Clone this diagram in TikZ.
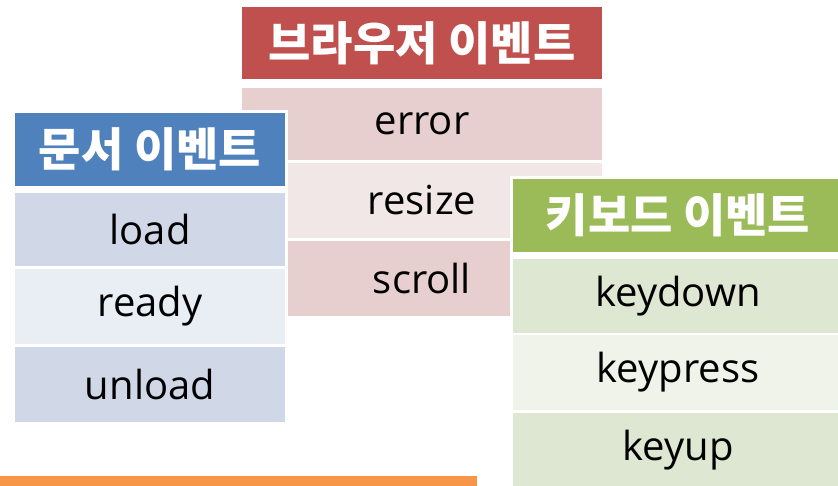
\documentclass[tikz,border=0pt]{standalone}
\usepackage{fontspec}
\setmainfont{Open Sans}
\newfontfamily\kr{Noto Sans CJK KR}
\definecolor{redH}{HTML}{C0504D}
\definecolor{redA}{HTML}{E6CFCE}
\definecolor{redB}{HTML}{F2E7E7}
\definecolor{bluH}{HTML}{4F81BD}
\definecolor{bluA}{HTML}{D0D8E8}
\definecolor{bluB}{HTML}{E9EDF4}
\definecolor{grnH}{HTML}{9BBB59}
\definecolor{grnA}{HTML}{DEE7D1}
\definecolor{grnB}{HTML}{EFF3EA}
\definecolor{orng}{HTML}{F79646}
\tikzset{
  cell/.style={inner sep=0pt, outer sep=0pt, anchor=center, text=black,
    font=\fontsize{40}{40}\selectfont},
  head/.style={inner sep=0pt, outer sep=0pt, anchor=center, text=white,
    font=\kr\bfseries\fontsize{46}{46}\selectfont},
}
\begin{document}
\begin{tikzpicture}[x=1pt,y=-1pt]
\useasboundingbox (0,0) rectangle (838,486);
\clip (0,0) rectangle (838,486);
% browser table
\node[head, fill=redH, minimum width=360pt, minimum height=72pt] (bh) at (422,43) {브라우저 이벤트};
\node[cell, fill=redA, minimum width=360pt, minimum height=72pt] (b1) at (422,124) {error};
\node[cell, fill=redB, minimum width=360pt, minimum height=75pt] (b2) at (422,200.5) {resize};
\node[cell, fill=redA, minimum width=360pt, minimum height=75pt] (b3) at (422,278.5) {scroll};
% document table
\fill[white] (12,110) rectangle (288,425);
\node[head, fill=bluH, minimum width=270pt, minimum height=73pt] (dh) at (150,149.5) {문서 이벤트};
\node[cell, fill=bluA, minimum width=270pt, minimum height=73pt] (d1) at (150,229.5) {load};
\node[cell, fill=bluB, minimum width=270pt, minimum height=75pt] (d2) at (150,306.5) {ready};
\node[cell, fill=bluA, minimum width=270pt, minimum height=75pt] (d3) at (150,384.5) {unload};
% keyboard table
\fill[white] (510,176) rectangle (846,490);
\node[head, fill=grnH, minimum width=330pt, minimum height=73pt] (kh) at (678,215.5) {키보드 이벤트};
\node[cell, fill=grnA, minimum width=330pt, minimum height=74pt] (k1) at (678,296) {keydown};
\node[cell, fill=grnB, minimum width=330pt, minimum height=75pt] (k2) at (678,372.5) {keypress};
\node[cell, fill=grnA, minimum width=330pt, minimum height=75pt] (k3) at (678,450.5) {keyup};
% orange bar
\fill[orng] (0,476) rectangle (477,486);
\end{tikzpicture}
\end{document}
